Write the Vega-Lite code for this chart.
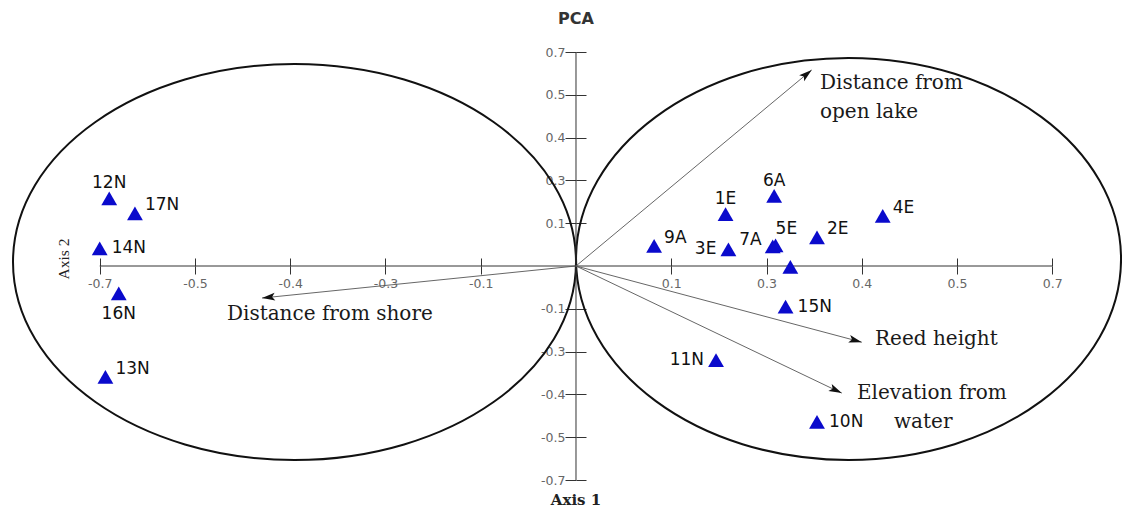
{
  "$schema": "https://vega.github.io/schema/vega-lite/v6.json",
  "width": 1122,
  "height": 510,
  "autosize": {"type": "none"},
  "padding": 0,
  "background": "white",
  "config": {"view": {"stroke": null}},
  "datasets": {
    "points": [
      {"id": "12N", "x": -0.490, "y": 0.158, "pos": "top"},
      {"id": "17N", "x": -0.463, "y": 0.123, "pos": "topright"},
      {"id": "14N", "x": -0.500, "y": 0.041, "pos": "right"},
      {"id": "16N", "x": -0.480, "y": -0.064, "pos": "bottom"},
      {"id": "13N", "x": -0.494, "y": -0.259, "pos": "topright"},
      {"id": "6A", "x": 0.208, "y": 0.164, "pos": "top"},
      {"id": "1E", "x": 0.157, "y": 0.121, "pos": "top"},
      {"id": "4E", "x": 0.322, "y": 0.117, "pos": "topright"},
      {"id": "9A", "x": 0.082, "y": 0.047, "pos": "topright"},
      {"id": "3E", "x": 0.160, "y": 0.039, "pos": "left"},
      {"id": "7A", "x": 0.2065, "y": 0.046, "pos": "topleft"},
      {"id": "5E", "x": 0.2095, "y": 0.048, "pos": "upper"},
      {"id": "", "x": 0.225, "y": -0.002, "pos": "none"},
      {"id": "2E", "x": 0.253, "y": 0.067, "pos": "topright"},
      {"id": "15N", "x": 0.220, "y": -0.095, "pos": "right"},
      {"id": "11N", "x": 0.147, "y": -0.220, "pos": "left"},
      {"id": "10N", "x": 0.253, "y": -0.364, "pos": "right"}
    ],
    "arrows": [
      {"name": "Distance from open lake", "x": 0.2474, "y": 0.458},
      {"name": "Distance from shore", "x": -0.3296, "y": -0.0748},
      {"name": "Reed height", "x": 0.300, "y": -0.178},
      {"name": "Elevation from water", "x": 0.279, "y": -0.297}
    ],
    "arrowText": [
      {"text": "Distance from", "x": 0.2561, "y": 0.4276},
      {"text": "open lake", "x": 0.2561, "y": 0.3605},
      {"text": "Distance from shore", "x": -0.3664, "y": -0.1133},
      {"text": "Reed height", "x": 0.3139, "y": -0.1706},
      {"text": "Elevation from", "x": 0.2950, "y": -0.2974},
      {"text": "water", "x": 0.3338, "y": -0.3638}
    ],
    "axisLines": [
      {"x": -0.5, "x2": 0.5, "y": 0, "y2": 0},
      {"x": 0, "x2": 0, "y": -0.5, "y2": 0.5}
    ],
    "ellipses": [
      {"name": "left", "x": -0.2955, "y": 0.0093},
      {"name": "right", "x": 0.2861, "y": 0.0164}
    ]
  },
  "resolve": {"axis": {"x": "independent", "y": "independent"}},
  "encoding": {
    "x": {"field": "x", "type": "quantitative", "scale": {"domain": [-0.60466, 0.57317], "nice": false, "zero": false}, "axis": null},
    "y": {"field": "y", "type": "quantitative", "scale": {"domain": [-0.57009, 0.6215], "nice": false, "zero": false}, "axis": null}
  },
  "layer": [
    {
      "data": {"name": "ellipses"},
      "transform": [{"filter": "datum.name == 'left'"}],
      "mark": {"type": "point", "shape": "M-1,0C-1,-0.3885,-0.5523,-0.7034,0,-0.7034C0.5523,-0.7034,1,-0.3885,1,0C1,0.3885,0.5523,0.7034,0,0.7034C-0.5523,0.7034,-1,0.3885,-1,0Z", "size": 316969, "filled": false, "stroke": "#111", "strokeWidth": 2, "opacity": 1},
      "encoding": {
        "x": {"field": "x", "type": "quantitative", "scale": {"domain": [-0.60466, 0.57317], "nice": false, "zero": false},
          "axis": {"orient": "bottom", "offset": -244, "values": [-0.5, -0.4, -0.3, -0.2, -0.1, 0.1, 0.2, 0.3, 0.4, 0.5], "domain": false, "grid": false, "labels": false, "tickSize": -8, "tickColor": "#333", "tickWidth": 1, "title": null}},
        "y": {"field": "y", "type": "quantitative", "scale": {"domain": [-0.57009, 0.6215], "nice": false, "zero": false},
          "axis": {"orient": "left", "offset": -576, "values": [-0.5, -0.4, -0.3, -0.2, -0.1, 0.1, 0.2, 0.3, 0.4, 0.5], "domain": false, "grid": false, "labels": false, "tickSize": -10, "tickColor": "#333", "tickWidth": 1, "title": null}}
      }
    },
    {
      "data": {"name": "ellipses"},
      "transform": [{"filter": "datum.name == 'right'"}],
      "mark": {"type": "point", "shape": "M-1,0C-1,-0.4074,-0.5523,-0.7376,0,-0.7376C0.5523,-0.7376,1,-0.4074,1,0C1,0.4074,0.5523,0.7376,0,0.7376C-0.5523,0.7376,-1,0.4074,-1,0Z", "size": 297025, "filled": false, "stroke": "#111", "strokeWidth": 2, "opacity": 1}
    },
    {
      "data": {"name": "axisLines"},
      "mark": {"type": "rule", "color": "#333", "strokeWidth": 1},
      "encoding": {
        "x": {"field": "x", "type": "quantitative", "scale": {"domain": [-0.60466, 0.57317], "nice": false, "zero": false},
          "axis": {"orient": "bottom", "offset": -244, "values": [-0.5, -0.4, -0.3, -0.2, -0.1, 0.1, 0.2, 0.3, 0.4, 0.5], "domain": false, "grid": false, "tickSize": 8, "tickColor": "#333", "tickWidth": 1, "labelExpr": "['-0.7','-0.5','-0.4','-0.3','-0.1','','0.1','0.3','0.4','0.5','0.7'][round(datum.value*10)+5]", "labelFont": "DejaVu Sans", "labelFontSize": 12.5, "labelColor": "#666", "labelPadding": 3, "labelFlush": false, "labelOverlap": false, "title": null}},
        "y": {"field": "y", "type": "quantitative", "scale": {"domain": [-0.57009, 0.6215], "nice": false, "zero": false},
          "axis": {"orient": "left", "offset": -576, "values": [-0.5, -0.4, -0.3, -0.2, -0.1, 0.1, 0.2, 0.3, 0.4, 0.5], "domain": false, "grid": false, "tickSize": 11, "tickColor": "#333", "tickWidth": 1, "labelExpr": "['-0.7','-0.5','-0.4','-0.3','-0.1','','0.1','0.3','0.4','0.5','0.7'][round(datum.value*10)+5]", "labelFont": "DejaVu Sans", "labelFontSize": 12.5, "labelColor": "#666", "labelPadding": 0, "labelFlush": false, "labelOverlap": false, "title": null}},
        "x2": {"field": "x2"},
        "y2": {"field": "y2"}
      }
    },
    {
      "data": {"name": "arrows"},
      "mark": {"type": "rule", "color": "#555", "strokeWidth": 0.9},
      "encoding": {"x2": {"datum": 0}, "y2": {"datum": 0}}
    },
    {
      "data": {"name": "arrows"},
      "transform": [{"calculate": "atan2(datum.x*952.6, datum.y*428)*180/PI", "as": "angle"}],
      "mark": {"type": "point", "shape": "M0,0L0.3,1L0,0.78L-0.3,1Z", "size": 676, "filled": true, "fill": "#111", "strokeWidth": 0, "opacity": 1},
      "encoding": {"angle": {"field": "angle", "type": "quantitative", "scale": null}}
    },
    {
      "data": {"name": "points"},
      "mark": {"type": "point", "shape": "triangle-up", "size": 250, "filled": true, "fill": "#0A0ACC", "strokeWidth": 0, "opacity": 1}
    },
    {
      "data": {"name": "points"},
      "transform": [{"filter": "datum.pos == 'top'"}],
      "mark": {"type": "text", "font": "DejaVu Sans", "fontSize": 17, "color": "#111", "align": "center", "baseline": "middle", "dy": -15},
      "encoding": {"text": {"field": "id"}}
    },
    {
      "data": {"name": "points"},
      "transform": [{"filter": "datum.pos == 'bottom'"}],
      "mark": {"type": "text", "font": "DejaVu Sans", "fontSize": 17, "color": "#111", "align": "center", "baseline": "middle", "dy": 21},
      "encoding": {"text": {"field": "id"}}
    },
    {
      "data": {"name": "points"},
      "transform": [{"filter": "datum.pos == 'right'"}],
      "mark": {"type": "text", "font": "DejaVu Sans", "fontSize": 17, "color": "#111", "align": "left", "baseline": "middle", "dx": 12},
      "encoding": {"text": {"field": "id"}}
    },
    {
      "data": {"name": "points"},
      "transform": [{"filter": "datum.pos == 'topright'"}],
      "mark": {"type": "text", "font": "DejaVu Sans", "fontSize": 17, "color": "#111", "align": "left", "baseline": "middle", "dx": 10, "dy": -8},
      "encoding": {"text": {"field": "id"}}
    },
    {
      "data": {"name": "points"},
      "transform": [{"filter": "datum.pos == 'left'"}],
      "mark": {"type": "text", "font": "DejaVu Sans", "fontSize": 17, "color": "#111", "align": "right", "baseline": "middle", "dx": -12},
      "encoding": {"text": {"field": "id"}}
    },
    {
      "data": {"name": "points"},
      "transform": [{"filter": "datum.pos == 'topleft'"}],
      "mark": {"type": "text", "font": "DejaVu Sans", "fontSize": 17, "color": "#111", "align": "right", "baseline": "middle", "dx": -11, "dy": -6},
      "encoding": {"text": {"field": "id"}}
    },
    {
      "data": {"name": "points"},
      "transform": [{"filter": "datum.pos == 'upper'"}],
      "mark": {"type": "text", "font": "DejaVu Sans", "fontSize": 17, "color": "#111", "align": "left", "baseline": "middle", "dx": 0, "dy": -16},
      "encoding": {"text": {"field": "id"}}
    },
    {
      "data": {"name": "arrowText"},
      "mark": {"type": "text", "font": "DejaVu Serif", "fontSize": 20, "color": "#1a1a1a", "align": "left", "baseline": "middle"},
      "encoding": {"text": {"field": "text"}}
    },
    {
      "data": {"values": [{"text": "PCA", "x": 0, "y": 0.5771}]},
      "mark": {"type": "text", "font": "DejaVu Sans", "fontWeight": "bold", "fontSize": 16, "color": "#333", "align": "center", "baseline": "middle"},
      "encoding": {"text": {"field": "text"}}
    },
    {
      "data": {"values": [{"text": "Axis 1", "x": 0, "y": -0.5467}]},
      "mark": {"type": "text", "font": "DejaVu Serif", "fontWeight": "bold", "fontSize": 15, "color": "#222", "align": "center", "baseline": "middle"},
      "encoding": {"text": {"field": "text"}}
    },
    {
      "data": {"values": [{"text": "Axis 2", "x": -0.5375, "y": 0.0164}]},
      "mark": {"type": "text", "font": "Liberation Serif", "fontSize": 15.5, "color": "#222", "align": "center", "baseline": "middle", "angle": 270},
      "encoding": {"text": {"field": "text"}}
    }
  ]
}
